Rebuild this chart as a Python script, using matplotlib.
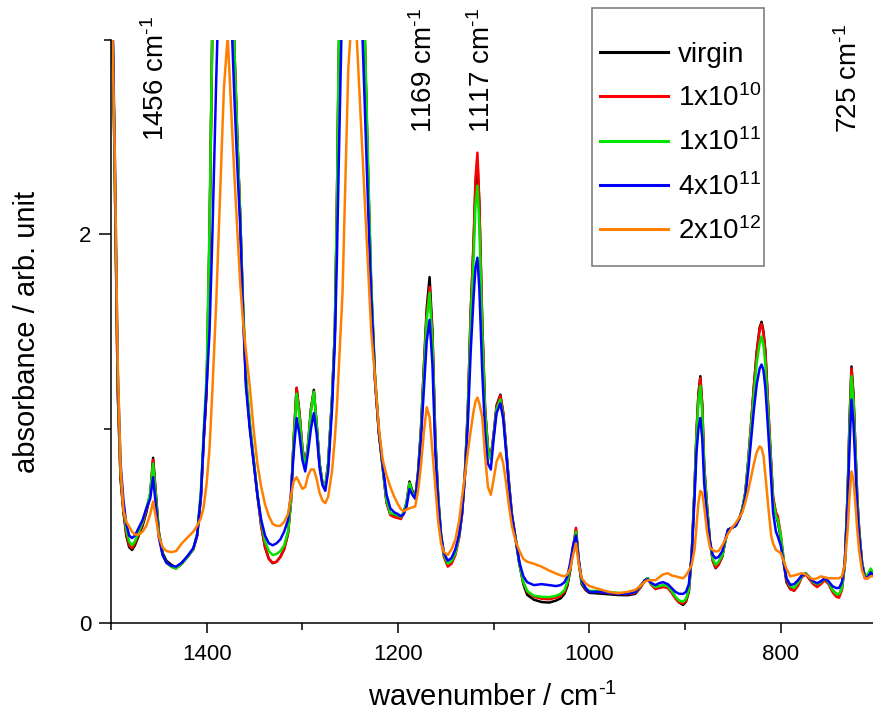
import matplotlib
matplotlib.use('Agg')
import matplotlib.pyplot as plt
import matplotlib.transforms as mtransforms
from matplotlib.patches import Rectangle
from matplotlib.ticker import FixedLocator

plt.rcParams['font.family'] = ['Liberation Sans', 'DejaVu Sans']
plt.rcParams['mathtext.fontset'] = 'custom'
plt.rcParams['mathtext.rm'] = 'Liberation Sans'
plt.rcParams['mathtext.it'] = 'Liberation Sans:italic'
plt.rcParams['mathtext.bf'] = 'Liberation Sans:bold'

# wavenumber grid (cm-1)
wavenumber = [
    1500, 1496, 1493, 1490, 1487, 1484, 1481, 1478, 1475, 1471, 1467, 1463, 1459, 1456, 1453, 1450, 1446, 1442, 1437, 1432, 1426, 1420, 1414, 1410, 1406, 1403, 1400,
    1397, 1394, 1390, 1386, 1382, 1378, 1374, 1371, 1368, 1365, 1362, 1359, 1355, 1351, 1347, 1343, 1339, 1335, 1331, 1327, 1323, 1319, 1315, 1312, 1309, 1306, 1303, 1300, 1297,
    1294, 1291, 1288, 1285, 1282, 1279, 1276, 1273, 1269, 1266, 1264, 1262, 1258, 1252, 1246, 1240, 1237, 1234, 1231, 1228, 1224, 1220, 1216, 1212, 1208, 1204, 1200, 1197,
    1194, 1191, 1188, 1185, 1182, 1179, 1176, 1173, 1170, 1167, 1164, 1161, 1158, 1155, 1152, 1148, 1144, 1140, 1136, 1133, 1130, 1127, 1124, 1121, 1119, 1117, 1115, 1112, 1109, 1106, 1103,
    1100, 1097, 1093, 1090, 1087, 1084, 1081, 1077, 1073, 1069, 1065, 1058, 1050, 1042, 1035, 1030, 1026, 1023, 1020, 1017, 1014, 1011, 1008, 1004, 1000,
    990, 980, 970, 960, 952, 947, 942, 939, 935, 931, 927, 923, 918, 914, 910, 906, 902, 899, 896, 893, 890, 888, 886, 884, 882, 880, 877,
    874, 871, 868, 865, 861, 858, 855, 851, 847, 843, 840, 837, 834, 831, 828, 825, 822, 820, 818, 816, 813, 810, 808, 805, 803, 800, 797, 794, 790,
    786, 782, 778, 774, 770, 766, 762, 758, 754, 750, 746, 742, 739, 736, 733, 730, 728, 726, 724, 722, 720, 718, 715, 712, 709, 706, 703, 700,
]

virgin = [
    3.6, 2.3, 1.2, 0.74, 0.57, 0.45, 0.39, 0.376, 0.40, 0.45, 0.50, 0.57, 0.66, 0.85, 0.66, 0.47, 0.36, 0.32, 0.30, 0.285, 0.31, 0.342, 0.38, 0.45, 0.65, 0.95, 1.20,
    2.0, 3.1, 3.9, 4.1, 4.1, 4.0, 3.4, 2.95, 2.5, 2.1, 1.62, 1.25, 1.02, 0.84, 0.66, 0.50, 0.39, 0.33, 0.308, 0.315, 0.34, 0.38, 0.46, 0.62, 0.95, 1.21, 1.08, 0.90, 0.81,
    0.92, 1.10, 1.20, 1.02, 0.82, 0.72, 0.70, 0.82, 1.15, 1.50, 2.1, 2.9, 3.9, 4.3, 4.3, 4.0, 3.5, 2.85, 2.25, 1.72, 1.25, 0.98, 0.80, 0.62, 0.56, 0.555, 0.555, 0.54,
    0.57, 0.62, 0.728, 0.68, 0.645, 0.78, 1.0, 1.32, 1.62, 1.78, 1.50, 0.95, 0.65, 0.45, 0.35, 0.30, 0.315, 0.36, 0.45, 0.57, 0.78, 1.10, 1.60, 1.95, 2.25, 2.38, 2.15, 1.55, 1.10, 0.90, 0.85,
    0.97, 1.12, 1.175, 1.08, 0.90, 0.72, 0.56, 0.43, 0.30, 0.20, 0.145, 0.12, 0.108, 0.105, 0.115, 0.127, 0.15, 0.19, 0.27, 0.38, 0.48, 0.31, 0.20, 0.17, 0.155,
    0.152, 0.148, 0.144, 0.143, 0.15, 0.18, 0.22, 0.23, 0.20, 0.18, 0.185, 0.19, 0.19, 0.165, 0.13, 0.105, 0.093, 0.11, 0.16, 0.35, 0.70, 0.98, 1.18, 1.27, 1.12, 0.81, 0.60,
    0.42, 0.32, 0.282, 0.30, 0.342, 0.42, 0.48, 0.49, 0.50, 0.54, 0.59, 0.67, 0.83, 1.02, 1.22, 1.40, 1.52, 1.55, 1.50, 1.40, 1.10, 0.82, 0.64, 0.56, 0.52, 0.44, 0.32, 0.21, 0.175,
    0.17, 0.20, 0.24, 0.256, 0.235, 0.21, 0.196, 0.21, 0.23, 0.21, 0.17, 0.15, 0.145, 0.18, 0.30, 0.68, 1.05, 1.32, 1.18, 0.92, 0.65, 0.48, 0.31, 0.235, 0.235, 0.27, 0.245, 0.24,
]

dose_1e10 = [
    3.6, 2.3, 1.2, 0.75, 0.58, 0.46, 0.40, 0.385, 0.41, 0.46, 0.51, 0.58, 0.66, 0.84, 0.65, 0.46, 0.35, 0.31, 0.29, 0.28, 0.305, 0.34, 0.38, 0.45, 0.65, 0.95, 1.20,
    2.0, 3.1, 3.9, 4.1, 4.1, 4.0, 3.4, 2.95, 2.5, 2.1, 1.62, 1.25, 1.02, 0.84, 0.66, 0.50, 0.39, 0.33, 0.31, 0.315, 0.34, 0.38, 0.46, 0.62, 0.95, 1.21, 1.08, 0.90, 0.80,
    0.92, 1.10, 1.19, 1.02, 0.82, 0.72, 0.70, 0.82, 1.15, 1.50, 2.1, 2.9, 3.9, 4.3, 4.3, 4.0, 3.5, 2.85, 2.25, 1.72, 1.25, 0.98, 0.80, 0.62, 0.555, 0.545, 0.54, 0.535,
    0.565, 0.62, 0.72, 0.67, 0.64, 0.77, 0.99, 1.30, 1.59, 1.73, 1.47, 0.94, 0.64, 0.44, 0.34, 0.29, 0.305, 0.35, 0.44, 0.56, 0.77, 1.10, 1.60, 1.97, 2.29, 2.42, 2.17, 1.55, 1.10, 0.90, 0.85,
    0.97, 1.11, 1.17, 1.08, 0.90, 0.72, 0.56, 0.43, 0.30, 0.21, 0.16, 0.135, 0.125, 0.122, 0.13, 0.14, 0.16, 0.20, 0.28, 0.39, 0.49, 0.32, 0.21, 0.175, 0.16,
    0.16, 0.155, 0.15, 0.148, 0.155, 0.18, 0.215, 0.225, 0.195, 0.175, 0.18, 0.185, 0.18, 0.155, 0.125, 0.105, 0.10, 0.115, 0.165, 0.35, 0.70, 0.98, 1.17, 1.26, 1.12, 0.81, 0.60,
    0.42, 0.32, 0.285, 0.30, 0.345, 0.42, 0.48, 0.49, 0.50, 0.54, 0.59, 0.67, 0.83, 1.02, 1.22, 1.39, 1.51, 1.54, 1.49, 1.39, 1.10, 0.82, 0.65, 0.57, 0.55, 0.46, 0.33, 0.22, 0.175,
    0.165, 0.19, 0.235, 0.25, 0.225, 0.20, 0.185, 0.20, 0.22, 0.20, 0.16, 0.135, 0.13, 0.17, 0.30, 0.67, 1.04, 1.31, 1.17, 0.91, 0.64, 0.48, 0.31, 0.23, 0.23, 0.265, 0.245, 0.24,
]

dose_1e11 = [
    3.6, 2.3, 1.25, 0.78, 0.60, 0.48, 0.42, 0.40, 0.42, 0.47, 0.52, 0.59, 0.67, 0.82, 0.64, 0.46, 0.35, 0.31, 0.29, 0.28, 0.305, 0.34, 0.38, 0.46, 0.68, 1.0, 1.28,
    2.05, 3.1, 3.9, 4.1, 4.1, 4.0, 3.5, 2.95, 2.5, 2.1, 1.65, 1.28, 1.04, 0.85, 0.67, 0.52, 0.42, 0.37, 0.35, 0.355, 0.37, 0.40, 0.47, 0.62, 0.94, 1.18, 1.06, 0.89, 0.80,
    0.92, 1.09, 1.19, 1.02, 0.82, 0.72, 0.70, 0.82, 1.15, 1.52, 2.1, 2.95, 3.9, 4.3, 4.3, 4.0, 3.55, 2.9, 2.3, 1.75, 1.27, 0.99, 0.80, 0.63, 0.565, 0.56, 0.555, 0.545,
    0.57, 0.62, 0.72, 0.67, 0.645, 0.77, 0.98, 1.28, 1.56, 1.70, 1.44, 0.93, 0.64, 0.45, 0.35, 0.305, 0.32, 0.36, 0.45, 0.57, 0.77, 1.08, 1.55, 1.88, 2.15, 2.25, 2.05, 1.50, 1.08, 0.89, 0.84,
    0.96, 1.10, 1.15, 1.06, 0.89, 0.71, 0.55, 0.43, 0.30, 0.21, 0.165, 0.14, 0.135, 0.133, 0.14, 0.15, 0.17, 0.21, 0.29, 0.39, 0.47, 0.32, 0.21, 0.18, 0.165,
    0.165, 0.16, 0.155, 0.152, 0.16, 0.185, 0.22, 0.23, 0.20, 0.185, 0.19, 0.195, 0.19, 0.165, 0.135, 0.115, 0.11, 0.125, 0.17, 0.35, 0.69, 0.96, 1.14, 1.22, 1.08, 0.79, 0.59,
    0.42, 0.33, 0.30, 0.315, 0.35, 0.42, 0.48, 0.49, 0.50, 0.54, 0.59, 0.67, 0.82, 1.00, 1.18, 1.34, 1.44, 1.475, 1.43, 1.33, 1.06, 0.80, 0.63, 0.55, 0.53, 0.45, 0.33, 0.23, 0.19,
    0.18, 0.205, 0.24, 0.255, 0.235, 0.21, 0.20, 0.21, 0.23, 0.21, 0.17, 0.15, 0.148, 0.18, 0.30, 0.66, 1.01, 1.27, 1.14, 0.89, 0.63, 0.47, 0.31, 0.245, 0.25, 0.28, 0.26, 0.25,
]

dose_4e11 = [
    3.6, 2.4, 1.3, 0.82, 0.63, 0.51, 0.45, 0.437, 0.45, 0.49, 0.53, 0.59, 0.64, 0.75, 0.60, 0.44, 0.35, 0.31, 0.295, 0.29, 0.31, 0.345, 0.385, 0.45, 0.66, 0.96, 1.22,
    1.5, 2.0, 2.8, 3.5, 3.8, 3.8, 3.1, 2.7, 2.35, 2.05, 1.6, 1.22, 1.0, 0.83, 0.66, 0.53, 0.45, 0.41, 0.40, 0.41, 0.43, 0.47, 0.53, 0.66, 0.88, 1.055, 0.97, 0.84, 0.78,
    0.88, 1.0, 1.08, 0.97, 0.80, 0.71, 0.68, 0.78, 1.10, 1.45, 1.85, 2.35, 3.3, 4.0, 4.0, 3.5, 3.0, 2.55, 2.1, 1.68, 1.25, 0.98, 0.81, 0.66, 0.59, 0.57, 0.56, 0.55,
    0.56, 0.60, 0.69, 0.66, 0.64, 0.76, 0.95, 1.20, 1.45, 1.56, 1.33, 0.88, 0.62, 0.45, 0.36, 0.32, 0.335, 0.38, 0.46, 0.57, 0.76, 1.03, 1.40, 1.68, 1.83, 1.88, 1.72, 1.30, 0.98, 0.82, 0.79,
    0.95, 1.08, 1.13, 1.05, 0.88, 0.70, 0.55, 0.43, 0.31, 0.24, 0.21, 0.195, 0.20, 0.195, 0.19, 0.195, 0.21, 0.24, 0.31, 0.40, 0.45, 0.32, 0.22, 0.18, 0.16,
    0.16, 0.155, 0.15, 0.15, 0.16, 0.19, 0.22, 0.225, 0.205, 0.195, 0.205, 0.21, 0.20, 0.18, 0.16, 0.15, 0.15, 0.16, 0.20, 0.35, 0.65, 0.88, 1.00, 1.055, 0.95, 0.72, 0.55,
    0.42, 0.35, 0.333, 0.34, 0.37, 0.43, 0.48, 0.49, 0.50, 0.54, 0.58, 0.65, 0.78, 0.94, 1.10, 1.23, 1.31, 1.33, 1.30, 1.21, 0.98, 0.74, 0.57, 0.47, 0.445, 0.40, 0.31, 0.23, 0.196,
    0.20, 0.22, 0.245, 0.25, 0.235, 0.215, 0.205, 0.215, 0.23, 0.215, 0.19, 0.18, 0.18, 0.21, 0.31, 0.62, 0.92, 1.15, 1.03, 0.82, 0.59, 0.45, 0.30, 0.235, 0.235, 0.26, 0.245, 0.24,
]

dose_2e12 = [
    3.4, 2.4, 1.35, 0.80, 0.58, 0.52, 0.496, 0.47, 0.455, 0.455, 0.47, 0.50, 0.56, 0.625, 0.54, 0.445, 0.39, 0.37, 0.365, 0.37, 0.41, 0.44, 0.47, 0.50, 0.54, 0.60, 0.72,
    0.90, 1.2, 1.65, 2.2, 2.75, 3.02, 2.6, 2.3, 2.03, 1.75, 1.55, 1.40, 1.22, 1.0, 0.82, 0.70, 0.61, 0.55, 0.51, 0.50, 0.50, 0.52, 0.56, 0.65, 0.73, 0.75, 0.72, 0.69, 0.70,
    0.76, 0.79, 0.79, 0.74, 0.67, 0.63, 0.617, 0.65, 0.78, 0.95, 1.1, 1.3, 1.7, 2.85, 3.3, 2.7, 2.4, 2.1, 1.8, 1.5, 1.26, 1.0, 0.84, 0.76, 0.70, 0.65, 0.61, 0.585,
    0.575, 0.585, 0.59, 0.595, 0.60, 0.68, 0.81, 0.98, 1.11, 1.06, 0.88, 0.70, 0.52, 0.41, 0.365, 0.35, 0.38, 0.43, 0.53, 0.65, 0.76, 0.88, 0.99, 1.09, 1.14, 1.16, 1.13, 1.06, 0.86, 0.70, 0.66,
    0.74, 0.83, 0.875, 0.82, 0.72, 0.60, 0.50, 0.42, 0.37, 0.33, 0.315, 0.305, 0.29, 0.27, 0.255, 0.245, 0.24, 0.25, 0.28, 0.35, 0.41, 0.30, 0.23, 0.205, 0.19,
    0.175, 0.16, 0.153, 0.16, 0.17, 0.19, 0.213, 0.22, 0.22, 0.22, 0.235, 0.25, 0.256, 0.245, 0.24, 0.235, 0.23, 0.245, 0.27, 0.30, 0.38, 0.50, 0.62, 0.68, 0.67, 0.60, 0.47,
    0.39, 0.375, 0.368, 0.37, 0.40, 0.43, 0.46, 0.49, 0.515, 0.545, 0.57, 0.62, 0.68, 0.75, 0.82, 0.88, 0.909, 0.90, 0.86, 0.76, 0.60, 0.45, 0.41, 0.376, 0.37, 0.36, 0.32, 0.28, 0.24,
    0.245, 0.25, 0.256, 0.25, 0.235, 0.225, 0.23, 0.24, 0.235, 0.23, 0.23, 0.23, 0.23, 0.24, 0.30, 0.48, 0.66, 0.78, 0.74, 0.62, 0.48, 0.37, 0.27, 0.23, 0.23, 0.24, 0.24, 0.24,
]

labels = ['virgin', '1x10$^{10}$', '1x10$^{11}$', '4x10$^{11}$', '2x10$^{12}$']
colors = ['#000000', '#ff0000', '#00e600', '#0000ff', '#ff8000']
peak_names = ['1456 cm$^{\\text{-1}}$', '1169 cm$^{\\text{-1}}$', '1117 cm$^{\\text{-1}}$', '725 cm$^{\\text{-1}}$']
peak_pos = [1453, 1173, 1112.5, 728.5]

fig = plt.figure(figsize=(8.73, 7.18), dpi=100)
ax = fig.add_axes([111/873, 95/718, 762.5/873, 583/718])

for vals, c, lab in zip([virgin, dose_1e10, dose_1e11, dose_4e11, dose_2e12], colors, labels):
    ax.plot(wavenumber, vals, color=c, lw=1.8, label=lab)

ax.set_xlim(1500, 703)
ax.set_ylim(0, 3)
ax.spines['top'].set_visible(False)
ax.spines['right'].set_visible(False)
for s in ['left', 'bottom']:
    ax.spines[s].set_linewidth(1.1)

ax.set_xticks([1400, 1200, 1000, 800])
ax.xaxis.set_minor_locator(FixedLocator([1500, 1300, 1100, 900]))
ax.set_yticks([0, 2])
ax.yaxis.set_minor_locator(FixedLocator([1, 3]))
ax.tick_params(axis='x', which='major', length=7, width=1.1, labelsize=16, pad=8)
ax.tick_params(axis='y', which='major', length=9, width=1.1, labelsize=16, pad=5)
ax.tick_params(which='minor', length=5, width=1.1)

ax.set_xlabel('wavenumber / cm$^{\\text{-1}}$', fontsize=21)
ax.set_ylabel('absorbance / arb. unit', fontsize=21)
ax.xaxis.set_label_coords(0.5, -0.103)
ax.yaxis.set_label_coords(-0.092, 0.5)

trans = mtransforms.blended_transform_factory(ax.transData, ax.transAxes)
for name, pos in zip(peak_names, peak_pos):
    yb = 0.827 if pos > 1400 else 0.840
    ax.text(pos, yb, name, rotation=90, ha='center', va='bottom',
            transform=trans, fontsize=20)

leg = ax.legend(loc='upper left', bbox_to_anchor=(600/873, 1 - 42/718),
                bbox_transform=fig.transFigure, frameon=False, fontsize=20,
                handlelength=2.45, handletextpad=0.35, labelspacing=0.59,
                borderpad=0, borderaxespad=0)
for h in leg.get_lines():
    h.set_linewidth(2.2)
fig.patches.append(Rectangle((592/873, (718 - 266)/718), 172/873, 258/718,
                             transform=fig.transFigure, fill=False,
                             edgecolor='#808080', lw=1.2))

fig.savefig('out.png', dpi=100)
